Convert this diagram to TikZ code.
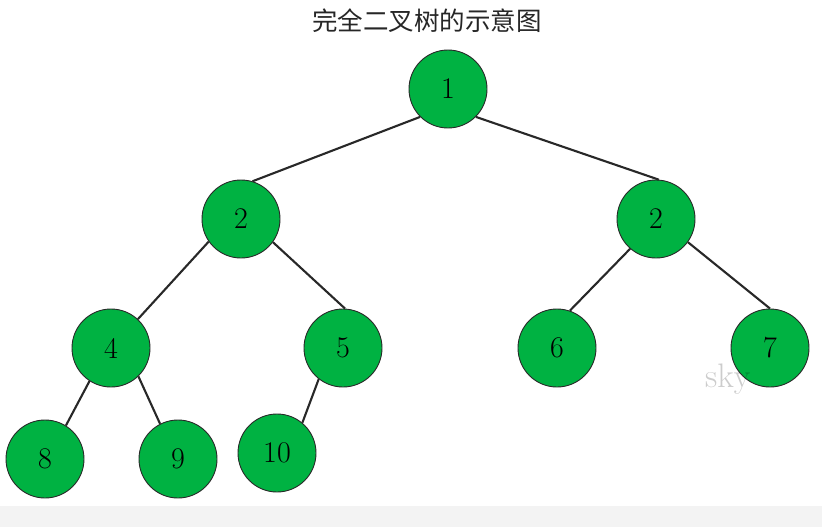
\documentclass[tikz,border=0pt]{standalone}
\usepackage{fontspec}
\newfontfamily\cjk{Noto Sans CJK SC}
\definecolor{nodegreen}{RGB}{0,178,66}
\definecolor{edgegray}{RGB}{40,40,40}
\definecolor{stripgray}{RGB}{243,243,243}
\begin{document}
\begin{tikzpicture}[x=1pt,y=-1pt,
  treenode/.style={circle,draw=edgegray,line width=0.9pt,fill=nodegreen,
    minimum size=78pt,inner sep=0pt,font=\fontsize{30}{30}\selectfont},
  branch/.style={draw=edgegray,line width=2.1pt}]
  % canvas and lower strip
  \fill[white] (0,0) rectangle (822,527);
  \fill[stripgray] (0,506) rectangle (822,527);
  \useasboundingbox (0,0) rectangle (822,527);
  % title
  \node[font=\cjk\fontsize{25.5}{26}\selectfont,text=black!85] (title) at (427,21) {完全二叉树的示意图};
  % tree nodes
  \node[treenode] (n1) at (448,89) {1};
  \node[treenode] (n2) at (241,219) {2};
  \node[treenode] (n3) at (656,219) {2};
  \node[treenode] (n4) at (111,348) {4};
  \node[treenode] (n5) at (343,348) {5};
  \node[treenode] (n6) at (557,348) {6};
  \node[treenode] (n7) at (770,348) {7};
  \node[treenode] (n8) at (45,459) {8};
  \node[treenode] (n9) at (178,459) {9};
  \node[treenode] (n10) at (277,453) {10};
  % branches, attached at fixed points of each circle
  \draw[branch] (n1.225) -- (n2.73);
  \draw[branch] (n1.315) -- (n3.86);
  \draw[branch] (n2.215) -- (n4.47);
  \draw[branch] (n2.324) -- (n5.87);
  \draw[branch] (n3.229) -- (n6.71);
  \draw[branch] (n3.324) -- (n7.90);
  \draw[branch] (n4.237) -- (n8.58);
  \draw[branch] (n4.314) -- (n9.117);
  \draw[branch] (n5.232) -- (n10.50);
  % faint mark
  \node[anchor=base west,inner sep=0pt,text=black,text opacity=0.2,
    font=\fontsize{34}{34}\selectfont] (mark) at (705,387) {sky};
\end{tikzpicture}
\end{document}
